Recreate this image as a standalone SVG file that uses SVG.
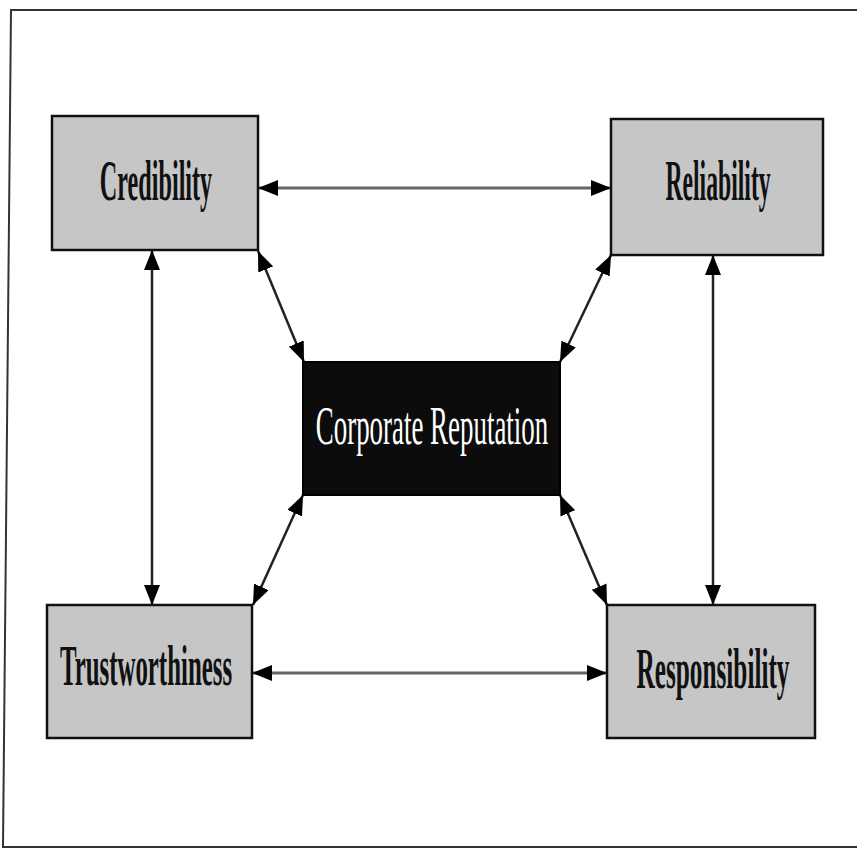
<svg xmlns="http://www.w3.org/2000/svg" width="857" height="849" viewBox="0 0 857 849">
<style>
.box{fill:#c6c6c6;stroke:#111;stroke-width:2.5}
.core{fill:#0c0c0c;stroke:#000;stroke-width:2}
.lbl{font-family:"Liberation Serif","Times New Roman",serif;font-size:56px;font-weight:bold;fill:#111;text-anchor:middle}
.lblw{font-family:"Liberation Serif","Times New Roman",serif;font-size:54px;fill:#fff;text-anchor:middle}
.conn{stroke:#222;stroke-width:2.5;fill:none;marker-start:url(#ah);marker-end:url(#ah)}
.connh{stroke:#666;stroke-width:3;fill:none;marker-start:url(#ah);marker-end:url(#ah)}
.frame{fill:none;stroke:#333;stroke-width:2}
</style>
<defs>
<marker id="ah" viewBox="0 0 20 16" refX="20" refY="8" markerWidth="20" markerHeight="16" markerUnits="userSpaceOnUse" orient="auto-start-reverse">
<path d="M0,0 L20,8 L0,16 Z" fill="#000"/>
</marker>
</defs>
<rect width="857" height="849" fill="#fff"/>
<path class="frame" d="M857,10 L11,10 L3,847 L857,847"/>
<g id="connectors">
<line class="connh" x1="258" y1="188" x2="611" y2="188"/>
<line class="connh" x1="252" y1="673" x2="607" y2="673"/>
<line class="conn" x1="152" y1="250" x2="152" y2="605"/>
<line class="conn" x1="713" y1="255" x2="713" y2="605"/>
<line class="conn" x1="258" y1="251" x2="304" y2="362"/>
<line class="conn" x1="611" y1="255" x2="560" y2="362"/>
<line class="conn" x1="303" y1="495" x2="253" y2="605"/>
<line class="conn" x1="560" y1="495" x2="607" y2="605"/>
</g>
<g id="credibility">
<rect class="box" x="52" y="116" width="206" height="134"/>
<text class="lbl" transform="translate(156,200) scale(0.432,1)">Credibility</text>
</g>
<g id="reliability">
<rect class="box" x="611" y="119" width="212" height="136"/>
<text class="lbl" transform="translate(718,200) scale(0.423,1)">Reliability</text>
</g>
<g id="corporate-reputation">
<rect class="core" x="303" y="362" width="257" height="133"/>
<text class="lblw" transform="translate(432,444) scale(0.4985,1)">Corporate Reputation</text>
</g>
<g id="trustworthiness">
<rect class="box" x="47" y="605" width="205" height="133"/>
<text class="lbl" transform="translate(146,685) scale(0.444,1)">Trustworthiness</text>
</g>
<g id="responsibility">
<rect class="box" x="607" y="605" width="208" height="133"/>
<text class="lbl" transform="translate(713,688) scale(0.451,1)">Responsibility</text>
</g>
</svg>
